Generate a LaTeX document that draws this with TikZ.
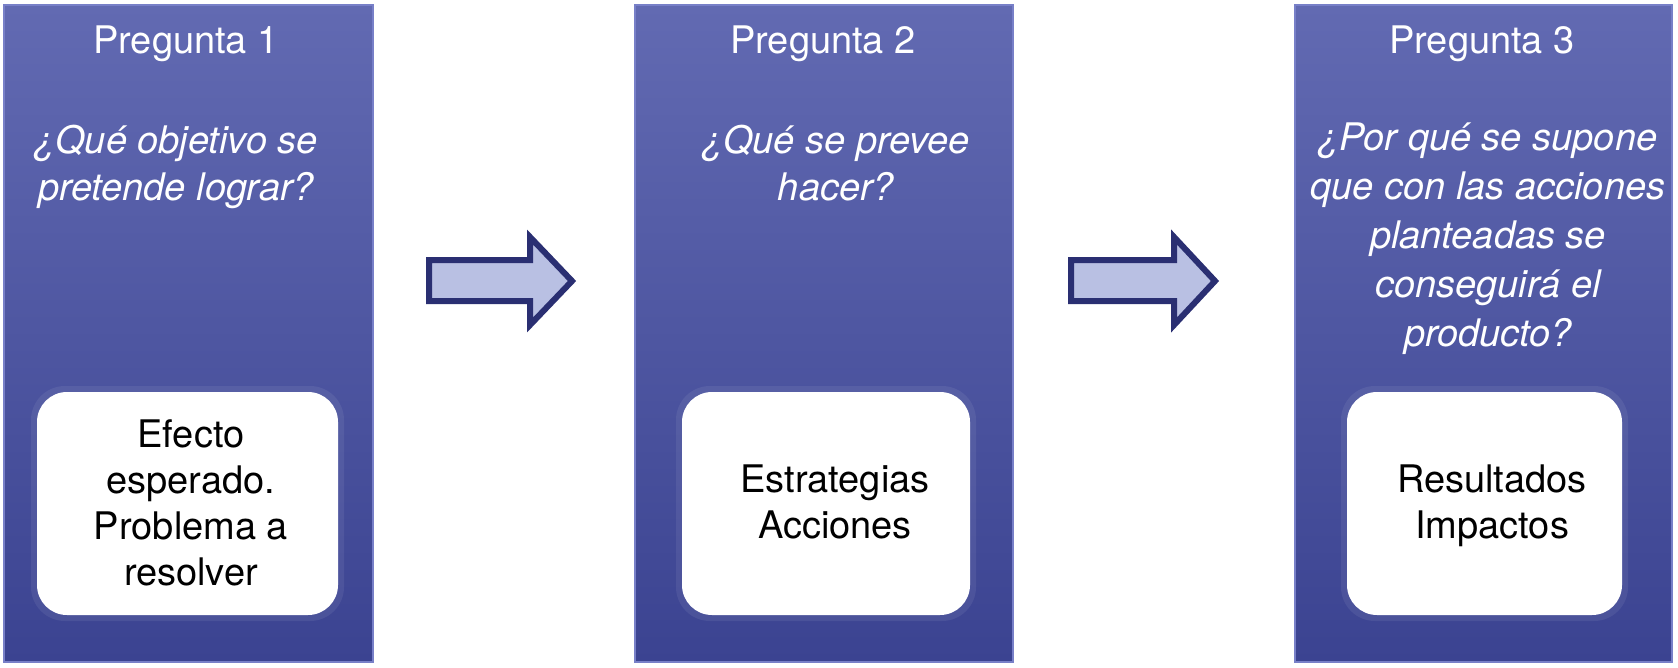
\documentclass[tikz,border=0pt]{standalone}
\usepackage{fontspec}
\setmainfont{TeX Gyre Heros}
\definecolor{boxtop}{RGB}{98,106,178}
\definecolor{boxbot}{RGB}{59,67,145}
\definecolor{boxedge}{RGB}{120,128,200}
\definecolor{arrfill}{RGB}{185,192,227}
\definecolor{arrdraw}{RGB}{42,47,114}
\begin{document}
\begin{tikzpicture}[x=1pt,y=-1pt,
  panel/.style={draw=boxedge,line width=1.5pt,top color=boxtop,bottom color=boxbot},
  halo/.style={fill=white,fill opacity=0.07,rounded corners=34pt},
  card/.style={fill=white,rounded corners=30pt},
  title/.style={text=white,font=\fontsize{38}{46}\selectfont,anchor=base,inner sep=0pt},
  question/.style={text=white,font=\fontsize{38}{47}\selectfont\itshape,align=center,anchor=base,inner sep=0pt},
  cardtext/.style={text=black,font=\fontsize{38}{46}\selectfont,align=center,anchor=base,inner sep=0pt},
  bigarrow/.style={fill=arrfill,draw=arrdraw,line width=6pt,line join=miter}]
\useasboundingbox (0,0) rectangle (1678,667);
% panels
\path[panel] (4,5) rectangle (373,662);
\path[panel] (635,5) rectangle (1013,662);
\path[panel] (1295,5) rectangle (1672,662);
% cards
\path[halo] (31,386) rectangle (344,621);
\path[card] (37,392) rectangle (338,615);
\path[halo] (676,386) rectangle (976,621);
\path[card] (682,392) rectangle (970,615);
\path[halo] (1341,386) rectangle (1628,621);
\path[card] (1347,392) rectangle (1622,615);
% titles
\node[title] (t1) at (186,53) {Pregunta 1};
\node[title] (t2) at (823,53) {Pregunta 2};
\node[title] (t3) at (1482,53) {Pregunta 3};
% questions
\node[question] (q1) at (176,200) {¿Qué objetivo se\\pretende lograr?};
\node[question] (q2) at (836,200) {¿Qué se prevee\\hacer?};
\node[question,font=\fontsize{38}{49}\selectfont\itshape] (q3) at (1488,346) {¿Por qué se supone\\que con las acciones\\planteadas se\\conseguirá el\\producto?};
% card texts
\node[cardtext] (c1) at (191,585) {Efecto\\esperado.\\Problema a\\resolver};
\node[cardtext] (c2) at (835,538) {Estrategias\\Acciones};
\node[cardtext] (c3) at (1492,538) {Resultados\\Impactos};
% arrows
\path[bigarrow] (429,260) -- (530,260) -- (530,237) -- (572,281) -- (530,325) -- (530,301) -- (429,301) -- cycle;
\path[bigarrow] (1071,260) -- (1174,260) -- (1174,237) -- (1215,281) -- (1174,325) -- (1174,301) -- (1071,301) -- cycle;
\end{tikzpicture}
\end{document}
